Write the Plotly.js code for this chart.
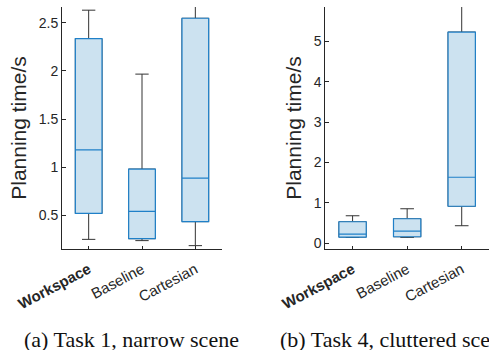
<!DOCTYPE html>
<html>
<head>
<meta charset="utf-8">
<script src="https://cdn.plot.ly/plotly-3.0.1.min.js"></script>
<style>html,body{margin:0;padding:0;background:#fff;}#chart{width:489px;height:350px;}</style>
</head>
<body>
<div id="chart"></div>
<script>
// Categories and tick labels
const categories = ['Workspace', 'Baseline', 'Cartesian'];
const tickLabels = ['<b>Workspace</b>', 'Baseline', 'Cartesian'];

// (a) Task 1, narrow scene — planning time (s)
const task1Lower  = [0.25, 0.237, 0.185];
const task1Q1     = [0.52, 0.257, 0.434];
const task1Median = [1.18, 0.54, 0.886];
const task1Q3     = [2.334, 0.98, 2.546];
const task1Upper  = [2.63, 1.966, 2.9];

// (b) Task 4, cluttered scene — planning time (s)
const task4Lower  = [0.148, 0.148, 0.436];
const task4Q1     = [0.156, 0.163, 0.918];
const task4Median = [0.23, 0.304, 1.636];
const task4Q3     = [0.535, 0.609, 5.23];
const task4Upper  = [0.683, 0.856, 6.5];

const captions = ['(a) Task 1, narrow scene', '(b) Task 4, cluttered scene'];
const yTitle = 'Planning time/s';

const axisColor = '#262626';
const boxEdge = '#1f80c8';
const boxFill = '#cce2f0';

function whiskerTrace(xa, ya, lo, q1, med, q3, hi) {
  return {
    type: 'box', x: categories, xaxis: xa, yaxis: ya,
    q1: q1, median: med, q3: q3, lowerfence: lo, upperfence: hi,
    boxpoints: false, width: 0.5, whiskerwidth: 0.5,
    line: {color: '#333333', width: 1}, fillcolor: 'rgba(0,0,0,0)',
    hoverinfo: 'skip', showlegend: false
  };
}
function boxTrace(xa, ya, q1, med, q3) {
  return {
    type: 'box', x: categories, xaxis: xa, yaxis: ya,
    q1: q1, median: med, q3: q3, lowerfence: q1, upperfence: q3,
    boxpoints: false, width: 0.5, whiskerwidth: 0,
    line: {color: boxEdge, width: 1.2}, fillcolor: boxFill,
    hoverinfo: 'skip', showlegend: false
  };
}

const data = [
  whiskerTrace('x', 'y', task1Lower, task1Q1, task1Median, task1Q3, task1Upper),
  boxTrace('x', 'y', task1Q1, task1Median, task1Q3),
  whiskerTrace('x2', 'y2', task4Lower, task4Q1, task4Median, task4Q3, task4Upper),
  boxTrace('x2', 'y2', task4Q1, task4Median, task4Q3)
];

const yTickFont = {family: 'Liberation Sans, Arial, sans-serif', size: 14, color: axisColor};
const xTickFont = {family: 'Liberation Sans, Arial, sans-serif', size: 15, color: axisColor};
const titleFont = {family: 'Liberation Sans, Arial, sans-serif', size: 21, color: axisColor};

function xAxis(domain, anchor) {
  return {
    domain: domain, anchor: anchor, type: 'category',
    range: [-0.5, 2.5], tickmode: 'array', tickvals: categories, ticktext: tickLabels,
    tickangle: -28, tickfont: xTickFont, ticklabelstandoff: 5,
    showline: true, linecolor: axisColor, linewidth: 1,
    ticks: 'inside', ticklen: 3, tickcolor: axisColor,
    showgrid: false, zeroline: false, fixedrange: true
  };
}
function yAxis(anchor, range, vals, labels) {
  return {
    anchor: anchor, domain: [0, 1], range: range,
    tickmode: 'array', tickvals: vals, ticktext: labels, tickfont: yTickFont,
    showline: true, linecolor: axisColor, linewidth: 1,
    ticks: 'inside', ticklen: 4, tickcolor: axisColor,
    showgrid: false, zeroline: false, fixedrange: true,
    title: {text: yTitle, font: titleFont, standoff: 6}
  };
}

const captionFont = {family: 'Liberation Serif, Times New Roman, serif', size: 22, color: '#111111'};

const layout = {
  width: 489, height: 350,
  margin: {l: 62, r: 0, t: 7, b: 101},
  paper_bgcolor: '#ffffff', plot_bgcolor: '#ffffff',
  boxmode: 'overlay', showlegend: false,
  xaxis: xAxis([0, 0.3747], 'y'),
  yaxis: yAxis('x', [0.15, 2.663], [0.5, 1, 1.5, 2, 2.5], ['0.5', '1', '1.5', '2', '2.5']),
  xaxis2: xAxis([0.6166, 1], 'y2'),
  yaxis2: yAxis('x2', [-0.14, 5.85], [0, 1, 2, 3, 4, 5], ['0', '1', '2', '3', '4', '5']),
  annotations: [
    {text: captions[0], xref: 'paper', yref: 'paper', x: 0.1616, y: -0.372,
     xanchor: 'center', yanchor: 'middle', showarrow: false, font: captionFont},
    {text: captions[1], xref: 'paper', yref: 'paper', x: 0.5068, y: -0.372,
     xanchor: 'left', yanchor: 'middle', showarrow: false, font: captionFont}
  ]
};

Plotly.newPlot('chart', data, layout, {displayModeBar: false, staticPlot: true});
</script>
</body>
</html>
